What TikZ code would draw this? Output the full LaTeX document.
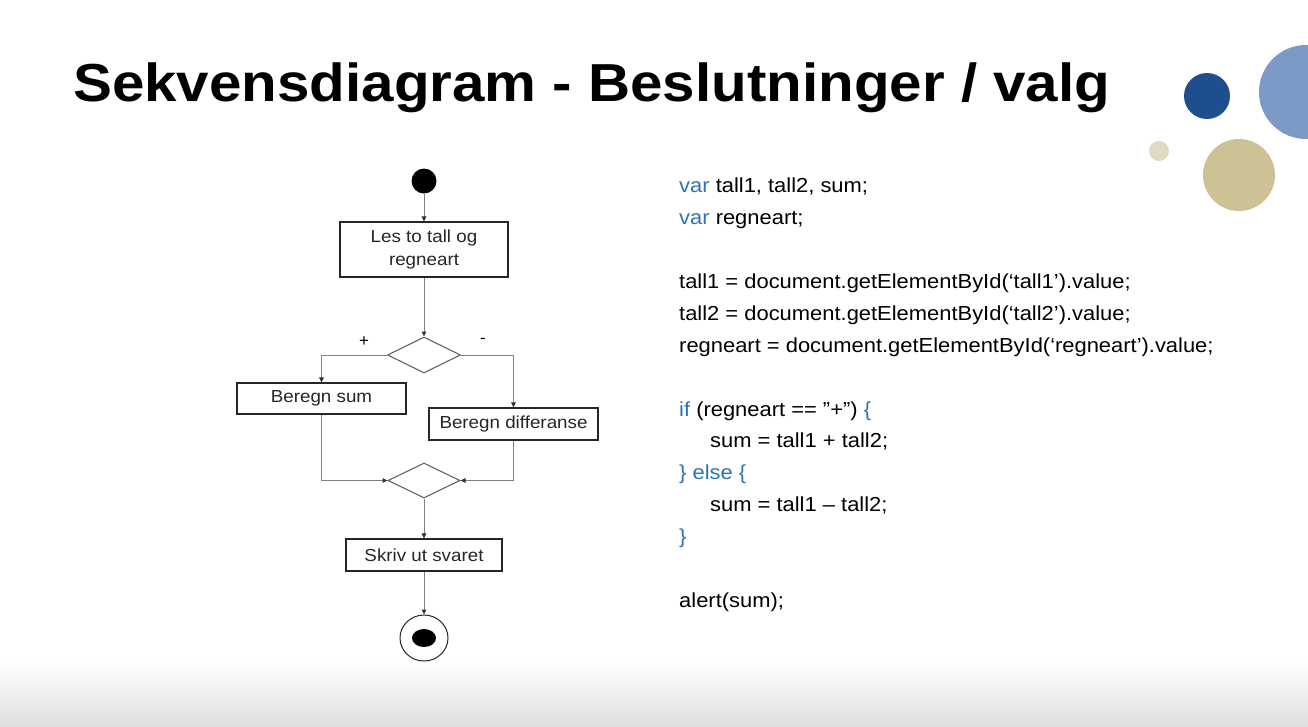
\documentclass[tikz,border=0pt]{standalone}
\usepackage{fontspec}
\usepackage{graphicx}
\setmainfont{Liberation Sans}
\usetikzlibrary{arrows.meta,shapes.geometric}
\definecolor{codeblue}{HTML}{2E74B5}
\definecolor{dotdark}{HTML}{1F4E8F}
\definecolor{dotlight}{HTML}{7B9BC6}
\definecolor{beige}{HTML}{CDC196}
\definecolor{beigelight}{HTML}{E0DAC3}
\definecolor{linegray}{HTML}{7F7F7F}
\newcommand{\wide}[1]{\scalebox{1.08}[1]{#1}}
\tikzset{
  actbox/.style={draw=black!85, line width=1.1pt, rectangle, inner sep=0pt, align=center, font=\fontsize{17.4}{22}\selectfont, text=black!85},
  decide/.style={draw=black!65, line width=1pt, diamond, inner sep=0pt, minimum width=73pt, minimum height=36pt},
  flow/.style={draw=linegray, line width=1pt, -{Triangle[length=5pt,width=4.5pt,color=black!80]}},
  codeline/.style={anchor=base west, inner sep=0pt, font=\fontsize{20.3}{26}\selectfont},
  guard/.style={font=\fontsize{17}{20}\selectfont, inner sep=0pt}
}
\begin{document}
\begin{tikzpicture}[x=1pt,y=-1pt]
\useasboundingbox (0,0) rectangle (1308,726);
\fill[white] (0,0) rectangle (1308,726);
\shade[top color=white, bottom color=black!13] (0,660) rectangle (1308,726);

% decorative dots
\fill[dotlight] (1306,92) circle (47);
\fill[dotdark] (1207,96) circle (23);
\fill[beigelight] (1159,151) circle (10);
\fill[beige] (1239,175) circle (36);

% title
\node[anchor=base west, inner sep=0pt, font=\fontsize{53.5}{56}\selectfont\bfseries] (title) at (73,101) {\scalebox{1.09}[1]{Sekvensdiagram - Beslutninger / valg}};

% flowchart
\node[circle, fill=black, minimum size=25pt, inner sep=0pt] (start) at (424,181) {};
\node[actbox, minimum width=168pt, minimum height=55pt] (les) at (424,249.5) {\wide{Les to tall og}\\[1pt]\wide{regneart}};
\node[decide] (dia1) at (424,355) {};
\node[actbox, minimum width=169pt, minimum height=31pt] (sum) at (321.5,398.5) {\wide{Beregn sum}};
\node[actbox, minimum width=169pt, minimum height=32pt] (diff) at (513.5,424) {\wide{Beregn differanse}};
\node[decide, minimum width=72pt, minimum height=35pt] (dia2) at (424,480.5) {};
\node[actbox, minimum width=156pt, minimum height=32pt] (skriv) at (424,555) {\wide{Skriv ut svaret}};
\node[ellipse, draw=black!85, line width=1pt, minimum width=48pt, minimum height=46pt, inner sep=0pt] (end) at (424,638) {};
\node[ellipse, fill=black, minimum width=24pt, minimum height=18pt, inner sep=0pt] (endin) at (424,638) {};

\node[guard] (plus) at (364,342) {+};
\node[guard] (minus) at (483,341) {-};

\draw[flow] (start) -- (les);
\draw[flow] (les) -- (dia1);
\draw[flow] (dia1.west) -| (sum.north);
\draw[flow] (dia1.east) -| (diff.north);
\draw[flow] (sum.south) |- (dia2.west);
\draw[flow] (diff.south) |- (dia2.east);
\draw[flow] (dia2) -- (skriv);
\draw[flow] (skriv) -- (end);

% code
\node[codeline] (c1) at (679,192) {\wide{\textcolor{codeblue}{var} tall1, tall2, sum;}};
\node[codeline] (c2) at (679,224) {\wide{\textcolor{codeblue}{var} regneart;}};
\node[codeline] (c3) at (679,288) {\wide{tall1 = document.getElementById(‘tall1’).value;}};
\node[codeline] (c4) at (679,320) {\wide{tall2 = document.getElementById(‘tall2’).value;}};
\node[codeline] (c5) at (679,352) {\wide{regneart = document.getElementById(‘regneart’).value;}};
\node[codeline] (c6) at (679,416) {\wide{\textcolor{codeblue}{if} (regneart == ”+”) \textcolor{codeblue}{\{}}};
\node[codeline] (c7) at (710,447) {\wide{sum = tall1 + tall2;}};
\node[codeline] (c8) at (679,479) {\wide{\textcolor{codeblue}{\} else \{}}};
\node[codeline] (c9) at (710,511) {\wide{sum = tall1 – tall2;}};
\node[codeline] (c10) at (679,543) {\wide{\textcolor{codeblue}{\}}}};
\node[codeline] (c11) at (679,607) {\wide{alert(sum);}};
\end{tikzpicture}
\end{document}
